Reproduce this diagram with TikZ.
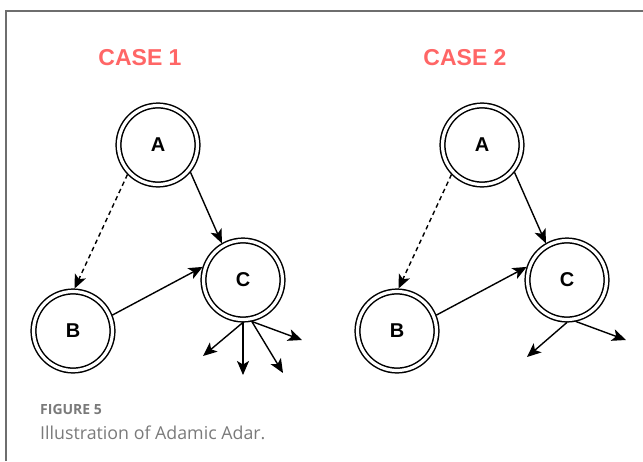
\documentclass[tikz,border=0pt]{standalone}
\usepackage{fontspec}
\setmainfont{Liberation Sans}
\newfontfamily\capfont{Open Sans}
\usetikzlibrary{arrows.meta}
\definecolor{casered}{HTML}{FF6666}
\definecolor{framegray}{HTML}{6E6E6E}
\definecolor{capgray}{HTML}{7A7A7A}
\tikzset{
  dnode/.style={circle, draw, line width=1.5pt, double, double distance=3.2pt,
    minimum size=79pt, inner sep=0pt, outer sep=2.9pt,
    font=\fontsize{20}{22}\selectfont\bfseries},
  arr/.style={line width=1.4pt, -{Stealth[length=14pt,width=12pt,inset=3.5pt]}},
  darr/.style={arr, dash pattern=on 4.5pt off 3.5pt},
  title/.style={text=casered, font=\fontsize{23}{26}\selectfont\bfseries},
}
\begin{document}
\begin{tikzpicture}[x=1pt,y=-1pt]
\useasboundingbox (0,0) rectangle (643,461);
% frame
\draw[framegray, line width=1.5pt] (6,461) -- (6,11) -- (643,11);
% titles
\node[title] (t1) at (140,58) {CASE 1};
\node[title] (t2) at (465,58) {CASE 2};
% case 1
\node[dnode] (A1) at (158,145) {A};
\node[dnode] (B1) at (73,331) {B};
\node[dnode] (C1) at (243,280) {C};
\draw[arr] (A1.-40) -- (C1.120);
\draw[darr] (A1.224) -- (B1.88);
\draw[arr] (B1.22) -- (C1.162);
\coordinate (o1) at (203,356);
\coordinate (o2) at (243,375);
\coordinate (o3) at (283,373);
\coordinate (o4) at (302,340);
\draw[arr] (C1.-90) -- (o1);
\draw[arr] (C1.-90) -- (o2);
\draw[arr] (C1.-78) -- (o3);
\draw[arr] (C1.-78) -- (o4);
% case 2
\node[dnode] (A2) at (482,145) {A};
\node[dnode] (B2) at (397,331) {B};
\node[dnode] (C2) at (567,280) {C};
\draw[arr] (A2.-40) -- (C2.120);
\draw[darr] (A2.224) -- (B2.88);
\draw[arr] (B2.22) -- (C2.162);
\coordinate (p1) at (527,357);
\coordinate (p2) at (626,340);
\draw[arr] (C2.-90) -- (p1);
\draw[arr] (C2.-78) -- (p2);
% caption
\node[anchor=base west, text=capgray, font=\capfont\fontsize{14}{16}\selectfont\bfseries, inner sep=0pt] (fig) at (40,414) {FIGURE 5};
\node[anchor=base west, text=capgray, font=\capfont\fontsize{17.8}{20}\selectfont, inner sep=0pt] (cap) at (40,439) {Illustration of Adamic Adar.};
\end{tikzpicture}
\end{document}
